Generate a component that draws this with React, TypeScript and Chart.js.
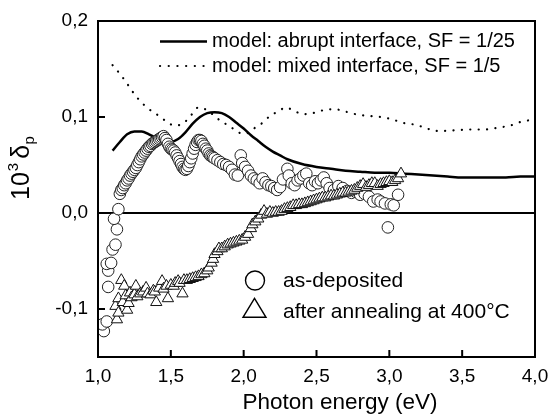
import React, { useEffect, useRef } from 'react';
import { Chart, registerables } from 'chart.js';

Chart.register(...registerables);

// ---- data ----
const xTicks = [1.0, 1.5, 2.0, 2.5, 3.0, 3.5, 4.0];
const yTicks = [-0.1, 0.0, 0.1, 0.2];

const abruptE = [1.10, 1.15, 1.20, 1.25, 1.30, 1.35, 1.40, 1.45, 1.50, 1.55, 1.60, 1.65, 1.70, 1.75, 1.80, 1.85, 1.90, 1.95, 2.00, 2.05, 2.10, 2.15, 2.20, 2.25, 2.30, 2.40, 2.50, 2.60, 2.70, 2.80, 2.90, 3.00, 3.10, 3.20, 3.30, 3.40, 3.50, 3.60, 3.70, 3.80, 3.90, 4.00];
const abruptV = [0.065, 0.074, 0.082, 0.085, 0.085, 0.082, 0.078, 0.075, 0.074, 0.077, 0.084, 0.093, 0.100, 0.104, 0.105, 0.104, 0.100, 0.094, 0.088, 0.081, 0.075, 0.069, 0.064, 0.060, 0.056, 0.051, 0.048, 0.046, 0.044, 0.043, 0.042, 0.042, 0.041, 0.040, 0.039, 0.038, 0.037, 0.037, 0.037, 0.037, 0.038, 0.038];

const mixedE = [1.10, 1.15, 1.19, 1.23, 1.27, 1.32, 1.37, 1.43, 1.48, 1.53, 1.59, 1.64, 1.69, 1.75, 1.80, 1.85, 1.91, 1.96, 2.02, 2.07, 2.13, 2.18, 2.24, 2.29, 2.35, 2.41, 2.46, 2.52, 2.58, 2.63, 2.69, 2.75, 2.81, 2.86, 2.92, 2.98, 3.03, 3.09, 3.14, 3.20, 3.26, 3.31, 3.37, 3.43, 3.49, 3.54, 3.60, 3.66, 3.71, 3.77, 3.83, 3.88, 3.94, 4.00];
const mixedV = [0.154, 0.145, 0.137, 0.128, 0.120, 0.112, 0.106, 0.100, 0.094, 0.091, 0.094, 0.102, 0.110, 0.107, 0.101, 0.095, 0.090, 0.084, 0.083, 0.088, 0.094, 0.101, 0.106, 0.110, 0.106, 0.103, 0.1035, 0.106, 0.108, 0.108, 0.106, 0.1035, 0.102, 0.101, 0.1005, 0.099, 0.097, 0.094, 0.093, 0.091, 0.088, 0.0855, 0.0855, 0.086, 0.0865, 0.087, 0.087, 0.087, 0.088, 0.0895, 0.091, 0.094, 0.096, 0.098];

const depE = [1.04, 1.03, 1.06, 1.07, 1.07, 1.06, 1.09, 1.10, 1.12, 1.13, 1.11, 1.14, 1.15, 1.16, 1.17, 1.18, 1.19, 1.20, 1.21, 1.22, 1.23, 1.24, 1.25, 1.26, 1.27, 1.28, 1.29, 1.30, 1.31, 1.32, 1.33, 1.34, 1.35, 1.36, 1.37, 1.38, 1.39, 1.40, 1.41, 1.42, 1.43, 1.44, 1.45, 1.46, 1.47, 1.48, 1.49, 1.50, 1.51, 1.52, 1.53, 1.54, 1.55, 1.56, 1.57, 1.58, 1.59, 1.60, 1.61, 1.62, 1.63, 1.64, 1.65, 1.66, 1.67, 1.68, 1.69, 1.70, 1.71, 1.72, 1.73, 1.74, 1.75, 1.76, 1.77, 1.78, 1.79, 1.80, 1.82, 1.84, 1.86, 1.88, 1.90, 1.92, 1.94, 1.96, 1.98, 1.99, 2.01, 2.03, 2.05, 2.07, 2.09, 2.11, 2.13, 2.15, 2.17, 2.19, 2.21, 2.23, 2.25, 2.27, 2.30, 2.31, 2.33, 2.35, 2.37, 2.39, 2.41, 2.43, 2.45, 2.47, 2.49, 2.51, 2.53, 2.55, 2.57, 2.59, 2.62, 2.65, 2.68, 2.71, 2.74, 2.77, 2.80, 2.83, 2.86, 2.89, 2.92, 2.94, 2.97, 2.99, 3.01, 3.03, 3.06];
const depV = [-0.123, -0.116, -0.113, -0.077, -0.060, -0.053, -0.052, -0.038, -0.033, -0.017, -0.006, 0.004, 0.020, 0.024, 0.026, 0.029, 0.031, 0.034, 0.036, 0.039, 0.041, 0.043, 0.045, 0.047, 0.050, 0.053, 0.056, 0.059, 0.061, 0.063, 0.065, 0.067, 0.069, 0.070, 0.072, 0.073, 0.074, 0.075, 0.076, 0.077, 0.078, 0.079, 0.080, 0.078, 0.076, 0.072, 0.069, 0.067, 0.066, 0.065, 0.063, 0.060, 0.057, 0.054, 0.051, 0.048, 0.046, 0.045, 0.046, 0.049, 0.053, 0.057, 0.062, 0.067, 0.071, 0.074, 0.076, 0.076, 0.075, 0.072, 0.070, 0.067, 0.065, 0.062, 0.060, 0.059, 0.058, 0.057, 0.055, 0.053, 0.051, 0.050, 0.048, 0.045, 0.040, 0.039, 0.060, 0.052, 0.048, 0.044, 0.039, 0.036, 0.034, 0.031, 0.036, 0.032, 0.029, 0.028, 0.026, 0.024, 0.027, 0.035, 0.046, 0.039, 0.031, 0.029, 0.034, 0.036, 0.039, 0.041, 0.031, 0.029, 0.033, 0.031, 0.034, 0.037, 0.031, 0.026, 0.024, 0.028, 0.026, 0.023, 0.021, 0.022, 0.019, 0.020, 0.017, 0.012, 0.014, 0.012, 0.010, -0.015, 0.009, 0.008, 0.019];

const annE = [1.13, 1.12, 1.14, 1.14, 1.16, 1.17, 1.18, 1.19, 1.20, 1.21, 1.22, 1.23, 1.25, 1.26, 1.27, 1.29, 1.31, 1.33, 1.34, 1.36, 1.38, 1.39, 1.40, 1.42, 1.44, 1.45, 1.47, 1.48, 1.50, 1.52, 1.53, 1.55, 1.56, 1.58, 1.59, 1.61, 1.63, 1.65, 1.67, 1.69, 1.71, 1.73, 1.75, 1.76, 1.78, 1.79, 1.80, 1.82, 1.83, 1.85, 1.87, 1.89, 1.91, 1.93, 1.95, 1.97, 1.99, 2.01, 2.03, 2.05, 2.06, 2.08, 2.10, 2.12, 2.14, 2.16, 2.18, 2.20, 2.22, 2.24, 2.26, 2.28, 2.30, 2.32, 2.34, 2.36, 2.38, 2.40, 2.42, 2.44, 2.46, 2.48, 2.50, 2.52, 2.54, 2.56, 2.58, 2.60, 2.62, 2.64, 2.66, 2.68, 2.70, 2.72, 2.74, 2.76, 2.78, 2.80, 2.82, 2.84, 2.86, 2.88, 2.90, 2.92, 2.94, 2.96, 2.98, 3.00, 3.02, 3.04, 3.06, 3.08];
const annV = [-0.111, -0.097, -0.104, -0.089, -0.070, -0.093, -0.076, -0.086, -0.101, -0.094, -0.083, -0.088, -0.085, -0.076, -0.087, -0.084, -0.082, -0.078, -0.084, -0.085, -0.081, -0.082, -0.093, -0.078, -0.071, -0.079, -0.076, -0.089, -0.075, -0.076, -0.073, -0.071, -0.073, -0.084, -0.070, -0.070, -0.069, -0.068, -0.067, -0.066, -0.064, -0.063, -0.060, -0.057, -0.052, -0.048, -0.043, -0.040, -0.037, -0.037, -0.035, -0.033, -0.032, -0.031, -0.030, -0.029, -0.028, -0.025, -0.022, -0.016, -0.012, -0.009, -0.006, -0.002, 0.002, -0.001, 0.001, 0.000, 0.001, 0.001, 0.002, 0.004, 0.005, 0.006, 0.008, 0.008, 0.009, 0.009, 0.010, 0.011, 0.012, 0.013, 0.014, 0.015, 0.016, 0.016, 0.017, 0.018, 0.018, 0.019, 0.020, 0.021, 0.021, 0.022, 0.023, 0.024, 0.026, 0.028, 0.030, 0.027, 0.029, 0.031, 0.031, 0.028, 0.030, 0.031, 0.032, 0.033, 0.032, 0.034, 0.036, 0.041];

const legendModel = ['model: abrupt interface, SF = 1/25', 'model: mixed interface, SF = 1/5'];
const legendSamples = ['as-deposited', 'after annealing at 400°C'];
const xTitle = 'Photon energy (eV)';

const FONT = '"Liberation Sans", Arial, sans-serif';

const pts = (xs: number[], ys: number[]) => xs.map((x, i) => ({ x, y: ys[i] }));
const fmt = (v: number) => v.toFixed(1).replace('.', ',');

const decorPlugin = {
  id: 'decor',
  beforeDatasetsDraw(chart: any) {
    const { ctx, chartArea: a, scales } = chart;
    const y0 = scales.y.getPixelForValue(0);
    ctx.save();
    ctx.strokeStyle = '#000';
    ctx.lineWidth = 2;
    ctx.beginPath();
    ctx.moveTo(a.left, y0);
    ctx.lineTo(a.right, y0);
    ctx.stroke();
    ctx.restore();
  },
  afterDraw(chart: any) {
    const { ctx, chartArea: a, scales } = chart;
    ctx.save();
    ctx.strokeStyle = '#000';
    ctx.fillStyle = '#000';
    ctx.lineWidth = 2;
    ctx.strokeRect(a.left, a.top, a.right - a.left, a.bottom - a.top);
    // inward ticks
    ctx.beginPath();
    xTicks.forEach((t) => {
      const px = scales.x.getPixelForValue(t);
      ctx.moveTo(px, a.bottom);
      ctx.lineTo(px, a.bottom - 7);
    });
    yTicks.forEach((t) => {
      const py = scales.y.getPixelForValue(t);
      ctx.moveTo(a.left, py);
      ctx.lineTo(a.left + 7, py);
    });
    ctx.stroke();

    // model legend
    ctx.lineWidth = 2.5;
    ctx.beginPath();
    ctx.moveTo(160, 41.5);
    ctx.lineTo(207, 41.5);
    ctx.stroke();
    ctx.setLineDash([0.1, 8.6]);
    ctx.lineCap = 'round';
    ctx.lineWidth = 2.2;
    ctx.beginPath();
    ctx.moveTo(160, 66);
    ctx.lineTo(204, 66);
    ctx.stroke();
    ctx.setLineDash([]);
    ctx.lineCap = 'butt';
    ctx.font = `20px ${FONT}`;
    ctx.textAlign = 'left';
    ctx.textBaseline = 'alphabetic';
    ctx.fillText(legendModel[0], 212, 47);
    ctx.fillText(legendModel[1], 212, 72);

    // sample legend
    ctx.lineWidth = 1.4;
    ctx.fillStyle = '#fff';
    ctx.beginPath();
    ctx.arc(255, 280.5, 9.5, 0, Math.PI * 2);
    ctx.fill();
    ctx.stroke();
    ctx.beginPath();
    ctx.moveTo(254.5, 298.3);
    ctx.lineTo(243, 317.3);
    ctx.lineTo(266, 317.3);
    ctx.closePath();
    ctx.fill();
    ctx.stroke();
    ctx.fillStyle = '#000';
    ctx.font = `21px ${FONT}`;
    ctx.fillText(legendSamples[0], 283, 287.3);
    ctx.fillText(legendSamples[1], 283, 318.3);

    // x title
    ctx.font = `22.5px ${FONT}`;
    ctx.textAlign = 'center';
    ctx.fillText(xTitle, 340, 409);

    // y title: 10^3 δ_p
    ctx.translate(29, 200);
    ctx.rotate(-Math.PI / 2);
    ctx.textAlign = 'left';
    ctx.font = `25px ${FONT}`;
    ctx.fillText('10', 0, 0);
    let w = ctx.measureText('10').width;
    ctx.font = `15px ${FONT}`;
    ctx.fillText('3', w + 1, -11);
    w += ctx.measureText('3').width + 5;
    ctx.font = `25px ${FONT}`;
    ctx.fillText('δ', w, 0);
    w += ctx.measureText('δ').width + 0.5;
    ctx.font = `15px ${FONT}`;
    ctx.fillText('p', w, 5);
    ctx.restore();
  },
};

export default function App() {
  const ref = useRef<HTMLCanvasElement>(null);
  useEffect(() => {
    document.body.style.margin = '0';
    const chart = new Chart(ref.current as HTMLCanvasElement, {
      type: 'scatter',
      data: {
        datasets: [
          {
            type: 'line',
            label: legendModel[0],
            data: pts(abruptE, abruptV),
            borderColor: '#000',
            borderWidth: 2.5,
            pointRadius: 0,
            cubicInterpolationMode: 'monotone',
            fill: false,
            order: 4,
          },
          {
            type: 'line',
            label: legendModel[1],
            data: pts(mixedE, mixedV),
            borderColor: '#000',
            borderWidth: 2.2,
            borderDash: [0.1, 8.3],
            borderCapStyle: 'round',
            pointRadius: 0,
            cubicInterpolationMode: 'monotone',
            fill: false,
            order: 3,
          },
          {
            label: legendSamples[0],
            data: pts(depE, depV),
            pointStyle: 'circle',
            pointRadius: 5.8,
            backgroundColor: '#fff',
            borderColor: '#222',
            borderWidth: 1,
            order: 2,
          },
          {
            label: legendSamples[1],
            data: pts(annE, annV),
            pointStyle: 'triangle',
            pointRadius: 6.5,
            backgroundColor: '#fff',
            borderColor: '#111',
            borderWidth: 1,
            order: 1,
          },
        ],
      } as any,
      options: {
        animation: false,
        responsive: false,
        maintainAspectRatio: false,
        layout: { padding: { top: 21, right: 15, left: 0, bottom: 0 } },
        plugins: { legend: { display: false }, tooltip: { enabled: false }, title: { display: false } },
        scales: {
          x: {
            type: 'linear',
            min: 1,
            max: 4,
            afterBuildTicks: (s: any) => { s.ticks = xTicks.map((v) => ({ value: v })); },
            afterFit: (s: any) => { s.height = 59; s.paddingLeft = 0; s.paddingRight = 0; },
            ticks: { callback: (v: any) => fmt(Number(v)), font: { family: FONT, size: 19 }, color: '#000', padding: 8, maxRotation: 0 },
            grid: { display: false, drawTicks: false },
            border: { display: false },
          },
          y: {
            type: 'linear',
            min: -0.15,
            max: 0.2,
            afterBuildTicks: (s: any) => { s.ticks = yTicks.map((v) => ({ value: v })); },
            afterFit: (s: any) => { s.width = 98; s.paddingTop = 0; s.paddingBottom = 0; },
            ticks: { callback: (v: any) => fmt(Number(v)), font: { family: FONT, size: 19 }, color: '#000', padding: 10 },
            grid: { display: false, drawTicks: false },
            border: { display: false },
          },
        },
      } as any,
      plugins: [decorPlugin],
    });
    return () => chart.destroy();
  }, []);
  return (
    <div style={{ position: 'absolute', left: 0, top: 0, width: 550, height: 416, background: '#fff' }}>
      <canvas ref={ref} width={550} height={416} style={{ width: 550, height: 416, display: 'block' }} />
    </div>
  );
}
